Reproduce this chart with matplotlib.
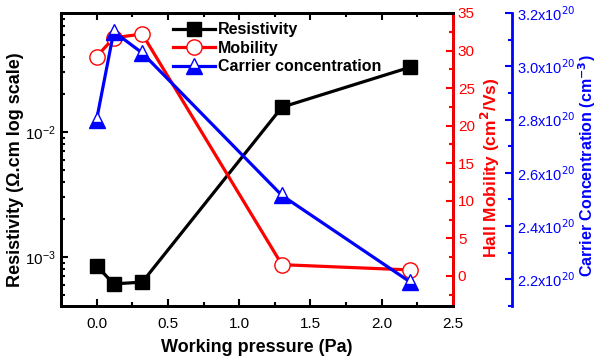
import matplotlib
matplotlib.use("Agg")
import matplotlib.pyplot as plt
from matplotlib.lines import Line2D
from matplotlib.ticker import FixedLocator, MultipleLocator, FuncFormatter

plt.rcParams['font.family'] = ['Liberation Sans', 'DejaVu Sans']

pressure = [0.0, 0.12, 0.32, 1.3, 2.2]
resistivity = [8.5e-4, 6.1e-4, 6.3e-4, 0.0158, 0.033]
mobility = [29.2, 31.7, 32.2, 1.5, 0.8]
carrier = [2.80e20, 3.13e20, 3.05e20, 2.515e20, 2.19e20]

fig = plt.figure(figsize=(6, 3.63), dpi=100)
ax1 = fig.add_axes([61/600, 1-306/363, 392/600, 293/363])
ax2 = ax1.twinx()
ax3 = ax1.twinx()
ax3.spines['right'].set_position(('axes', (512-61)/392))

lw = 2.3
ax1.plot(pressure, resistivity, color='black', lw=lw, marker='s', ms=10,
         mfc='black', mec='black')
ax2.plot(pressure, mobility, color='red', lw=lw, marker='o', ms=11,
         mfc='white', mec='red', mew=1.0)
ax3.plot(pressure, carrier, color='blue', lw=lw, marker='^', ms=12,
         mfc='blue', mfcalt='white', fillstyle='bottom', mec='blue', mew=1.0)

ax1.set_yscale('log')
ax1.set_xlim(-0.25, 2.5)
ax1.set_ylim(4.06e-4, 0.0895)
ax2.set_ylim(-4, 35)
ax3.set_ylim(2.1e20, 3.2e20)

for ax in (ax1, ax2, ax3):
    for s in ax.spines.values():
        s.set_linewidth(2)
ax2.spines['right'].set_color('red')
ax3.spines['right'].set_color('blue')

ax1.xaxis.set_major_locator(MultipleLocator(0.5))
ax1.xaxis.set_minor_locator(MultipleLocator(0.25))
ax1.tick_params(axis='both', which='both', direction='in', top=True, labelsize=11)
ax1.tick_params(axis='x', which='major', length=5, width=1.5, pad=8)
ax1.tick_params(axis='x', which='minor', length=3, width=1.5)
ax1.tick_params(axis='y', which='major', length=5, width=1.5)
ax1.tick_params(axis='y', which='minor', length=3, width=1.5)

ax2.yaxis.set_major_locator(MultipleLocator(5))
ax2.yaxis.set_minor_locator(MultipleLocator(2.5))
ax2.tick_params(axis='y', which='both', direction='in', colors='red', labelsize=11, width=1.5)
ax2.tick_params(axis='y', which='major', length=5)
ax2.tick_params(axis='y', which='minor', length=3)

ax3.yaxis.set_major_locator(FixedLocator([2.2e20, 2.4e20, 2.6e20, 2.8e20, 3.0e20, 3.2e20]))
ax3.yaxis.set_minor_locator(FixedLocator([2.1e20, 2.3e20, 2.5e20, 2.7e20, 2.9e20, 3.1e20]))
ax3.yaxis.set_major_formatter(FuncFormatter(lambda v, p: r'%.1fx10$^{20}$' % (v/1e20)))
ax3.tick_params(axis='y', which='both', direction='in', colors='blue', labelsize=10.5, width=1.5)
ax3.tick_params(axis='y', which='major', length=5)
ax3.tick_params(axis='y', which='minor', length=3)

ax1.set_xlabel('Working pressure (Pa)', fontsize=13, fontweight='bold', labelpad=6)
ax1.set_ylabel('Resistivity (Ω.cm log scale)', fontsize=13, fontweight='bold')
ax1.yaxis.set_label_coords((24-61)/392, 0.464)
ax2.set_ylabel('Hall Mobility (cm$^{\\mathbf{2}}$/Vs)', fontsize=12.5, fontweight='bold', color='red')
ax2.yaxis.set_label_coords((479-61)/392, 0.47)
ax3.set_ylabel('Carrier Concentration (cm$^{\\mathbf{-3}}$)', fontsize=11.5, fontweight='bold', color='blue')
ax3.yaxis.set_label_coords((576-61)/392, 0.48)

handles = [
    Line2D([], [], color='black', lw=lw, marker='s', ms=10, mfc='black', mec='black'),
    Line2D([], [], color='red', lw=lw, marker='o', ms=11, mfc='white', mec='red'),
    Line2D([], [], color='blue', lw=lw, marker='^', ms=12, mfc='blue', mfcalt='white',
           fillstyle='bottom', mec='blue'),
]
leg = ax3.legend(handles, ['Resistivity', 'Mobility', 'Carrier concentration'],
                 loc='upper left', bbox_to_anchor=(0.27, 0.99), frameon=False,
                 prop={'weight': 'bold', 'size': 11.5}, handlelength=2.6,
                 handletextpad=0.2, labelspacing=0.22, borderaxespad=0)

fig.savefig('out.png', dpi=100)
